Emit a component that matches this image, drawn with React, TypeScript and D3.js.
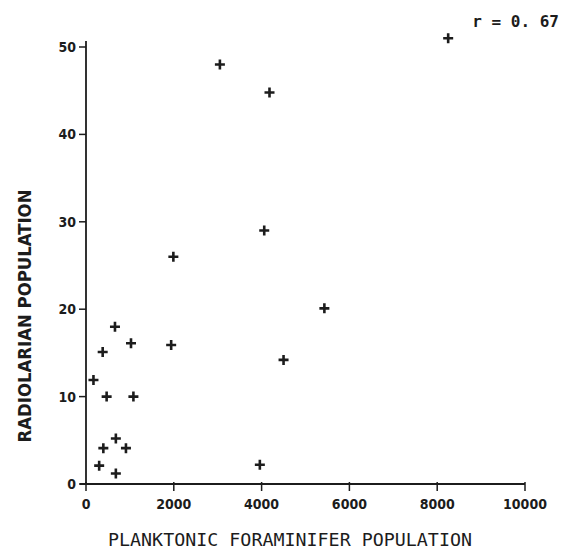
import React from 'react'
import * as d3 from 'd3'

// foraminifer vs radiolarian populations
const forams = [3050, 4180, 4060, 1990, 8250, 660, 380, 1025, 1940, 170, 470, 1080, 680, 395, 910, 300, 680, 3960, 5430, 4500]
const radios = [48, 44.8, 29, 26, 51, 18, 15.1, 16.1, 15.9, 11.9, 10, 10, 5.2, 4.1, 4.1, 2.1, 1.2, 2.2, 20.1, 14.2]
const xTicks = [0, 2000, 4000, 6000, 8000, 10000]
const yTicks = [0, 10, 20, 30, 40, 50]

const ink = '#1c1c1c'
const font = '"DejaVu Sans Condensed", "DejaVu Sans", sans-serif'
const mono = '"DejaVu Sans Mono", monospace'

const App = () => {
  const width = 564
  const height = 550

  const x = d3.scaleLinear().domain([0, 10000]).range([86, 525])
  const y = d3.scaleLinear().domain([0, 50]).range([484, 47])

  const arm = 5

  return <svg width={width} height={height} style={{position: 'absolute', left: 0, top: 0, background: '#fff'}}
    fontFamily={font} fill={ink}>
    {/* axes */}
    <line x1={x(0)} x2={x(0)} y1={y(50) - 6} y2={y(0)} stroke={ink} strokeWidth={1.8} />
    <line x1={x(0) - 6} x2={x(10000)} y1={y(0)} y2={y(0)} stroke={ink} strokeWidth={1.8} />

    {yTicks.map(t => <g key={'y' + t} transform={`translate(${x(0)},${y(t)})`}>
      <line x1={-7} x2={0} stroke={ink} strokeWidth={1.5} />
      <text x={-10} dy="0.35em" textAnchor="end" fontSize={14} fontWeight="bold">{t}</text>
    </g>)}

    {xTicks.map(t => <g key={'x' + t} transform={`translate(${x(t)},${y(0)})`}>
      <line y1={-2} y2={7} stroke={ink} strokeWidth={1.5} />
      <text y={25} textAnchor="middle" fontSize={14} fontWeight="bold">{t}</text>
    </g>)}

    <text x={290} y={546} textAnchor="middle" fontFamily={mono} fontSize={18} textLength={364} lengthAdjust="spacingAndGlyphs">
      PLANKTONIC FORAMINIFER POPULATION
    </text>
    <text transform={`translate(31,316) rotate(-90)`} textAnchor="middle" fontSize={17} fontWeight="bold"
      textLength={253} lengthAdjust="spacingAndGlyphs">
      RADIOLARIAN POPULATION
    </text>

    <text x={559} y={27} textAnchor="end" fontFamily={mono} fontSize={16} fontWeight="bold"
      style={{whiteSpace: 'pre'}}>{'r = 0. 67'}</text>

    {/* points */}
    {forams.map((f, i) => <path key={i} transform={`translate(${x(f)},${y(radios[i])})`}
      d={`M${-arm},0H${arm}M0,${-arm}V${arm}`} stroke={ink} strokeWidth={2.6} fill="none" />)}
  </svg>
}

export default App
